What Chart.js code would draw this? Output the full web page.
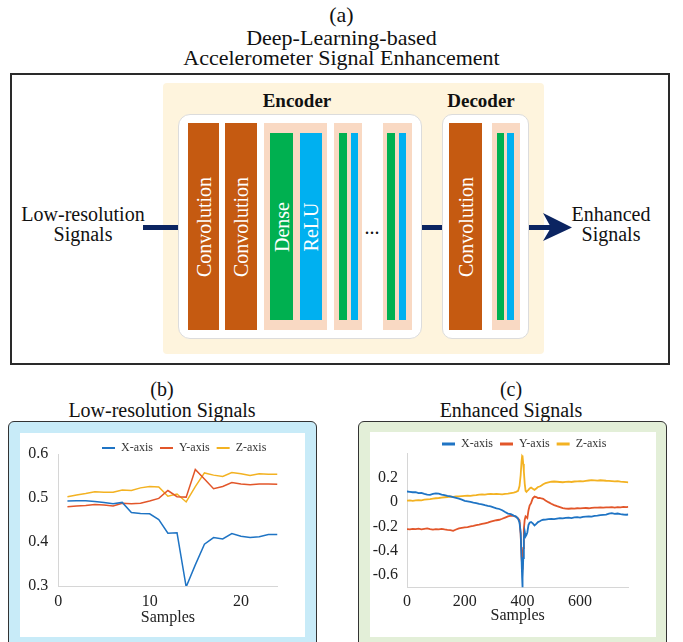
<!DOCTYPE html>
<html><head><meta charset="utf-8">
<script src="https://cdn.jsdelivr.net/npm/chart.js@4.4.1/dist/chart.umd.min.js"></script>
<style>
html,body{margin:0;padding:0;background:#fff;}
body{width:683px;height:642px;position:relative;overflow:hidden;font-family:"Liberation Serif","Times New Roman",serif;color:#111;}
.a{position:absolute;box-sizing:border-box;}
.t{position:absolute;text-align:center;white-space:nowrap;}
.vt{position:absolute;display:flex;align-items:center;justify-content:center;overflow:visible;}
.vt span{display:block;transform:rotate(-90deg);white-space:nowrap;color:#fff;font-size:20px;line-height:20px;}
.conv{background:#c55a11;}
.peach{background:#f9d9c3;}
.grn{background:#00b050;}
.blu{background:#00b0f0;}
.nav{background:#0b2461;}
canvas{position:absolute;}
</style></head>
<body>
<!-- (a) diagram -->
<div class="t" style="left:0;width:683px;top:5px;font-size:22px;line-height:20px;">(a)</div>
<div class="t" style="left:0;width:683px;top:28px;font-size:22px;line-height:20px;">Deep-Learning-based<br>Accelerometer Signal Enhancement</div>
<div class="a" style="left:10px;top:73px;width:660px;height:292px;border:2px solid #2a2a2a;"></div>
<div class="a" style="left:163px;top:83px;width:381px;height:271px;background:#fef4dd;border-radius:4px;"></div>
<div class="a" style="left:178px;top:114px;width:244px;height:225px;background:#fff;border:1px solid #dcdcdc;border-radius:12px;"></div>
<div class="a" style="left:442px;top:114px;width:87px;height:225px;background:#fff;border:1px solid #dcdcdc;border-radius:10px;"></div>
<div class="t" style="left:247px;width:100px;top:91px;font-size:19px;line-height:20px;font-weight:bold;">Encoder</div>
<div class="t" style="left:431px;width:100px;top:91px;font-size:19px;line-height:20px;font-weight:bold;">Decoder</div>

<div class="a conv" style="left:188px;top:123px;width:31px;height:207px;"></div>
<div class="vt" style="left:188px;top:123px;width:31px;height:207px;"><span>Convolution</span></div>
<div class="a conv" style="left:225px;top:123px;width:32px;height:207px;"></div>
<div class="vt" style="left:225px;top:123px;width:32px;height:207px;"><span>Convolution</span></div>

<div class="a peach" style="left:264px;top:123px;width:63px;height:207px;"></div>
<div class="a grn" style="left:270px;top:133px;width:23px;height:187px;"></div>
<div class="vt" style="left:270px;top:133px;width:23px;height:187px;"><span>Dense</span></div>
<div class="a blu" style="left:300px;top:133px;width:22px;height:187px;"></div>
<div class="vt" style="left:300px;top:133px;width:22px;height:187px;"><span>ReLU</span></div>

<div class="a peach" style="left:334px;top:123px;width:28px;height:207px;"></div>
<div class="a grn" style="left:339px;top:133px;width:8px;height:187px;"></div>
<div class="a blu" style="left:351px;top:133px;width:7px;height:187px;"></div>

<div class="t" style="left:352px;width:40px;top:217px;font-size:20px;line-height:20px;">...</div>

<div class="a peach" style="left:383px;top:123px;width:29px;height:207px;"></div>
<div class="a grn" style="left:387px;top:133px;width:8px;height:187px;"></div>
<div class="a blu" style="left:399px;top:133px;width:7px;height:187px;"></div>

<div class="a conv" style="left:449px;top:123px;width:33px;height:207px;"></div>
<div class="vt" style="left:449px;top:123px;width:33px;height:207px;"><span>Convolution</span></div>
<div class="a peach" style="left:492px;top:123px;width:28px;height:207px;"></div>
<div class="a grn" style="left:497px;top:133px;width:7px;height:187px;"></div>
<div class="a blu" style="left:507px;top:133px;width:7px;height:187px;"></div>

<div class="a nav" style="left:143px;top:225px;width:35px;height:5px;"></div>
<div class="a nav" style="left:422px;top:225px;width:20px;height:5px;"></div>
<div class="a nav" style="left:529px;top:225px;width:23px;height:5px;"></div>
<svg style="position:absolute;left:0;top:0;" width="683" height="642"><polygon points="543,213 572,227.5 543,241 551,227.5" fill="#0b2461"/></svg>

<div class="t" style="left:3px;width:160px;top:204px;font-size:20px;line-height:20px;">Low-resolution<br>Signals</div>
<div class="t" style="left:561px;width:100px;top:204px;font-size:20px;line-height:20px;">Enhanced<br>Signals</div>

<!-- (b) and (c) -->
<div class="t" style="left:62px;width:200px;top:379px;font-size:20px;line-height:20px;">(b)</div>
<div class="t" style="left:62px;width:200px;top:400px;font-size:20px;line-height:20px;">Low-resolution Signals</div>
<div class="t" style="left:411px;width:200px;top:379px;font-size:20px;line-height:20px;">(c)</div>
<div class="t" style="left:411px;width:200px;top:400px;font-size:20px;line-height:20px;">Enhanced Signals</div>

<div class="a" style="left:8px;top:421px;width:309px;height:232px;background:#c8ebf8;border:1.5px solid #333;border-radius:6px;"></div>
<div class="a" style="left:20px;top:433px;width:285px;height:204px;background:#fff;"></div>
<div class="a" style="left:358px;top:421px;width:309px;height:232px;background:#e3efd8;border:1.5px solid #333;border-radius:6px;"></div>
<div class="a" style="left:370px;top:432px;width:286px;height:205px;background:#fff;"></div>

<canvas id="cb" width="285" height="209" style="left:20px;top:428px;"></canvas>
<canvas id="cc" width="286" height="207" style="left:370px;top:430px;"></canvas>

<script>
// ---- data (b) Low-resolution Signals ----
const bSamples = [1,2,3,4,5,6,7,8,9,10,11,12,13,14,15,16,17,18,19,20,21,22,23,24];
const bX = [0.493,0.494,0.494,0.492,0.490,0.487,0.490,0.467,0.465,0.464,0.451,0.420,0.421,0.298,0.348,0.395,0.410,0.407,0.419,0.413,0.410,0.412,0.417,0.417];
const bY = [0.480,0.482,0.483,0.485,0.484,0.482,0.488,0.487,0.488,0.493,0.499,0.517,0.503,0.502,0.565,0.543,0.521,0.526,0.535,0.532,0.530,0.532,0.532,0.531];
const bZ = [0.503,0.507,0.510,0.514,0.513,0.513,0.518,0.517,0.523,0.526,0.525,0.504,0.509,0.491,0.526,0.557,0.552,0.549,0.558,0.555,0.551,0.555,0.554,0.554];
const bXTicks = [0,10,20];
const bYTicks = [0.3,0.4,0.5,0.6];

// ---- data (c) Enhanced Signals ----
const cSamples = [0,10,20,30,40,50,60,70,80,90,
100,110,120,130,140,150,160,170,180,190,
200,210,220,230,240,250,260,270,280,290,
300,310,320,330,340,350,360,370,378,385,
390,394,397,399,400,401,403,405,408,411,
414,417,421,425,430,436,442,448,454,460,
466,472,480,490,500,510,520,530,540,550,
560,570,580,590,600,610,620,630,640,650,
660,670,680,690,700,710,720,730,740,750,
760,767];
const cX = [0.085,0.082,0.079,0.080,0.072,0.074,0.066,0.060,0.058,0.065,
0.070,0.068,0.060,0.055,0.050,0.046,0.040,0.033,0.026,0.018,
0.008,0.004,0.000,-0.006,-0.010,-0.016,-0.020,-0.027,-0.032,-0.036,
-0.045,-0.052,-0.058,-0.068,-0.082,-0.095,-0.100,-0.112,-0.120,-0.138,
-0.170,-0.255,-0.460,-0.620,-0.700,-0.620,-0.460,-0.300,-0.241,-0.282,
-0.270,-0.250,-0.190,-0.170,-0.165,-0.175,-0.192,-0.180,-0.165,-0.158,
-0.150,-0.146,-0.145,-0.140,-0.138,-0.140,-0.136,-0.132,-0.134,-0.130,
-0.128,-0.132,-0.127,-0.125,-0.128,-0.122,-0.120,-0.118,-0.121,-0.115,
-0.112,-0.108,-0.106,-0.104,-0.096,-0.092,-0.098,-0.095,-0.100,-0.103,
-0.105,-0.103];
const cY = [-0.222,-0.225,-0.220,-0.222,-0.218,-0.224,-0.220,-0.216,-0.222,-0.226,
-0.222,-0.224,-0.220,-0.225,-0.228,-0.230,-0.236,-0.226,-0.216,-0.212,
-0.208,-0.206,-0.200,-0.196,-0.190,-0.186,-0.180,-0.175,-0.170,-0.162,
-0.156,-0.150,-0.146,-0.138,-0.128,-0.118,-0.112,-0.115,-0.122,-0.135,
-0.150,-0.268,-0.450,-0.520,-0.527,-0.450,-0.377,-0.220,-0.146,-0.119,
-0.125,-0.132,-0.070,-0.030,-0.010,0.030,0.044,0.040,0.031,0.033,
0.028,0.025,0.012,-0.002,-0.015,-0.026,-0.035,-0.042,-0.050,-0.055,
-0.056,-0.054,-0.055,-0.052,-0.053,-0.051,-0.050,-0.052,-0.048,-0.046,
-0.047,-0.045,-0.046,-0.044,-0.045,-0.042,-0.046,-0.043,-0.044,-0.041,
-0.042,-0.040];
const cZ = [0.010,0.012,0.008,0.012,0.015,0.013,0.018,0.020,0.022,0.026,
0.030,0.032,0.035,0.038,0.040,0.044,0.042,0.045,0.046,0.048,
0.050,0.052,0.050,0.054,0.056,0.060,0.062,0.060,0.063,0.065,
0.063,0.066,0.064,0.062,0.066,0.068,0.072,0.076,0.082,0.090,
0.130,0.220,0.330,0.375,0.379,0.370,0.310,0.250,0.150,0.090,
0.082,0.090,0.099,0.110,0.118,0.108,0.099,0.110,0.122,0.126,
0.135,0.145,0.153,0.160,0.165,0.167,0.165,0.163,0.161,0.164,
0.166,0.163,0.167,0.168,0.170,0.168,0.172,0.175,0.178,0.176,
0.174,0.177,0.175,0.173,0.172,0.170,0.168,0.170,0.166,0.164,
0.162,0.160];
const cXTicks = [0,200,400,600];
const cYTicks = [-0.6,-0.4,-0.2,0,0.2];

const seriesNames = ['X-axis','Y-axis','Z-axis'];
const seriesColors = ['#1f74c4','#e2562a','#f3b222'];

Chart.defaults.font.family = '"Liberation Serif","Times New Roman",serif';

const legendShift = {
  id: 'legendShift',
  afterLayout(chart, args, opts) {
    const lg = chart.legend;
    if (!lg || !opts || !opts.dx) return;
    lg.left += opts.dx; lg.right += opts.dx;
  }
};

function pts(xs, ys) { return xs.map((x, i) => ({x: x, y: ys[i]})); }

function build(id, xs, series, o) {
  const datasets = series.map((ys, i) => ({
    label: seriesNames[i], data: pts(xs, ys), borderColor: seriesColors[i], backgroundColor: seriesColors[i],
    borderWidth: o.lw, pointRadius: 0, tension: 0, fill: false
  }));
  return new Chart(document.getElementById(id), {
    type: 'line',
    data: {datasets},
    plugins: [legendShift],
    options: {
      responsive: false, animation: false, devicePixelRatio: 1,
      layout: {padding: {top: o.padTop, right: o.padRight, left: 0, bottom: 0}},
      plugins: {
        tooltip: {enabled: false},
        legend: {
          display: true, position: 'top', align: 'start', fullSize: false, maxHeight: o.legendH,
          labels: {
            usePointStyle: true, pointStyle: 'line', pointStyleWidth: 13, boxHeight: 12, padding: 7,
            color: '#333', font: {size: 12},
            generateLabels: (chart) => Chart.defaults.plugins.legend.labels.generateLabels(chart).map(l => Object.assign(l, {lineWidth: o.legendLW}))
          }
        },
        legendShift: {dx: o.dx}
      },
      scales: {
        x: {
          type: 'linear', min: o.xmin, max: o.xmax,
          grid: {display: false, drawTicks: false},
          border: {display: true, color: '#d6d6d6', width: 1},
          ticks: {padding: o.xTickPad, color: '#222', font: {size: 16}, maxRotation: 0},
          afterBuildTicks: s => { s.ticks = o.xTicks.map(v => ({value: v})); },
          afterFit: s => { s.height = o.xH; },
          title: {display: true, text: 'Samples', color: '#222', font: {size: 16}, padding: {top: 0, bottom: o.titlePad}}
        },
        y: {
          type: 'linear', min: o.ymin, max: o.ymax,
          grid: {display: false, drawTicks: false},
          border: {display: true, color: '#d6d6d6', width: 1},
          ticks: {padding: o.yTickPad, color: '#222', font: {size: 16}},
          afterBuildTicks: s => { s.ticks = o.yTicks.map(v => ({value: v})); },
          afterFit: s => { s.width = o.yW; }
        }
      }
    }
  });
}

build('cb', bSamples, [bX, bY, bZ], {
  lw: 1.5, legendLW: 2, padTop: 7, padRight: 27.5, legendH: 19, dx: 36.7,
  xmin: 0, xmax: 24, xTicks: bXTicks, xTickPad: 6, xH: 51, titlePad: 10,
  ymin: 0.3, ymax: 0.6, yTicks: bYTicks, yTickPad: 10, yW: 38.3
});
build('cc', cSamples, [cX, cY, cZ], {
  lw: 1.8, legendLW: 3, padTop: 1, padRight: 27.7, legendH: 22, dx: 28,
  xmin: 0, xmax: 767, xTicks: cXTicks, xTickPad: 5, xH: 49.5, titlePad: 12,
  ymin: -0.7, ymax: 0.4, yTicks: cYTicks, yTickPad: 9, yW: 37
});
</script>
</body></html>
